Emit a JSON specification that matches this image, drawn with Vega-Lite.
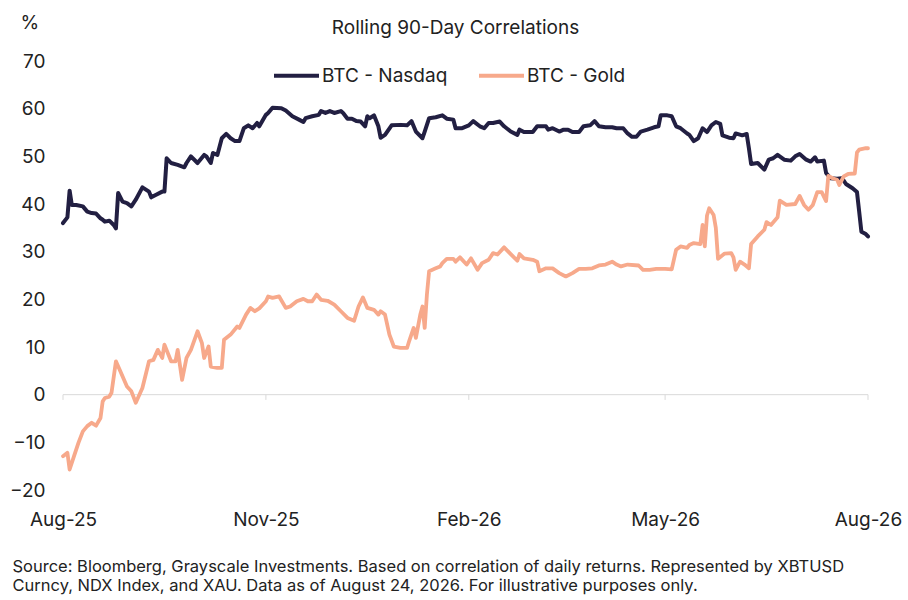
{
"$schema": "https://vega.github.io/schema/vega-lite/v6.json",
"width": 805,
"height": 429,
"autosize": {"type": "none"},
"padding": {"left": 63, "top": 61, "right": 40, "bottom": 110},
"background": "white",
"config": {"font": "Inter", "view": {"stroke": null}},
"title": {"text": "Rolling 90-Day Correlations", "fontSize": 19, "fontWeight": "normal", "color": "#222222", "anchor": "middle", "dx": -10, "offset": 0, "dy": 25},
"datasets": {
"ticks": [{"date": "2025-08-24"}, {"date": "2025-11-24"}, {"date": "2026-02-24"}, {"date": "2026-05-24"}, {"date": "2026-08-24"}],
"nasdaq": [
{"date":"2025-08-24","value":36.0},{"date":"2025-08-26","value":37.2},{"date":"2025-08-27","value":42.8},{"date":"2025-08-28","value":39.8},{"date":"2025-08-30","value":39.8},{"date":"2025-09-02","value":39.5},{"date":"2025-09-04","value":38.4},{"date":"2025-09-06","value":38.1},{"date":"2025-09-08","value":38.0},{"date":"2025-09-10","value":37.0},{"date":"2025-09-11","value":36.7},{"date":"2025-09-12","value":36.3},{"date":"2025-09-14","value":36.5},{"date":"2025-09-16","value":35.6},{"date":"2025-09-17","value":34.9},{"date":"2025-09-18","value":42.3},{"date":"2025-09-20","value":40.5},{"date":"2025-09-22","value":40.2},{"date":"2025-09-24","value":39.5},{"date":"2025-09-26","value":40.9},{"date":"2025-09-29","value":43.5},{"date":"2025-10-02","value":42.6},{"date":"2025-10-03","value":41.4},{"date":"2025-10-05","value":41.9},{"date":"2025-10-08","value":42.6},{"date":"2025-10-09","value":42.6},{"date":"2025-10-10","value":49.6},{"date":"2025-10-12","value":48.6},{"date":"2025-10-15","value":48.2},{"date":"2025-10-18","value":47.7},{"date":"2025-10-19","value":48.6},{"date":"2025-10-21","value":50.0},{"date":"2025-10-24","value":48.6},{"date":"2025-10-27","value":50.3},{"date":"2025-10-28","value":50.0},{"date":"2025-10-30","value":48.6},{"date":"2025-10-31","value":50.7},{"date":"2025-11-02","value":50.3},{"date":"2025-11-04","value":53.8},{"date":"2025-11-06","value":54.7},{"date":"2025-11-08","value":53.8},{"date":"2025-11-10","value":53.2},{"date":"2025-11-12","value":53.2},{"date":"2025-11-14","value":55.9},{"date":"2025-11-16","value":56.5},{"date":"2025-11-18","value":55.9},{"date":"2025-11-20","value":57.0},{"date":"2025-11-21","value":56.3},{"date":"2025-11-24","value":58.7},{"date":"2025-11-25","value":59.1},{"date":"2025-11-27","value":60.2},{"date":"2025-12-01","value":60.1},{"date":"2025-12-03","value":59.6},{"date":"2025-12-06","value":58.4},{"date":"2025-12-09","value":57.7},{"date":"2025-12-11","value":57.2},{"date":"2025-12-12","value":58.0},{"date":"2025-12-15","value":58.4},{"date":"2025-12-18","value":58.7},{"date":"2025-12-19","value":59.5},{"date":"2025-12-21","value":59.1},{"date":"2025-12-23","value":59.5},{"date":"2025-12-25","value":59.1},{"date":"2025-12-28","value":59.5},{"date":"2025-12-29","value":59.1},{"date":"2025-12-31","value":57.9},{"date":"2026-01-02","value":57.9},{"date":"2026-01-04","value":57.4},{"date":"2026-01-06","value":57.3},{"date":"2026-01-08","value":56.3},{"date":"2026-01-09","value":58.4},{"date":"2026-01-10","value":58.0},{"date":"2026-01-12","value":58.6},{"date":"2026-01-14","value":56.3},{"date":"2026-01-15","value":53.9},{"date":"2026-01-17","value":54.5},{"date":"2026-01-20","value":56.5},{"date":"2026-01-24","value":56.6},{"date":"2026-01-27","value":56.5},{"date":"2026-01-29","value":57.4},{"date":"2026-01-31","value":55.2},{"date":"2026-02-03","value":53.8},{"date":"2026-02-04","value":55.2},{"date":"2026-02-06","value":58.0},{"date":"2026-02-09","value":58.2},{"date":"2026-02-12","value":58.6},{"date":"2026-02-14","value":57.9},{"date":"2026-02-17","value":57.7},{"date":"2026-02-18","value":55.9},{"date":"2026-02-21","value":55.9},{"date":"2026-02-24","value":56.5},{"date":"2026-02-26","value":57.4},{"date":"2026-03-01","value":56.3},{"date":"2026-03-03","value":55.9},{"date":"2026-03-05","value":57.0},{"date":"2026-03-07","value":57.0},{"date":"2026-03-10","value":57.3},{"date":"2026-03-12","value":56.3},{"date":"2026-03-15","value":55.2},{"date":"2026-03-18","value":54.5},{"date":"2026-03-19","value":55.6},{"date":"2026-03-21","value":55.1},{"date":"2026-03-25","value":55.1},{"date":"2026-03-27","value":56.3},{"date":"2026-03-31","value":56.3},{"date":"2026-04-01","value":55.6},{"date":"2026-04-03","value":55.9},{"date":"2026-04-06","value":55.2},{"date":"2026-04-08","value":55.6},{"date":"2026-04-10","value":55.6},{"date":"2026-04-12","value":55.1},{"date":"2026-04-15","value":55.1},{"date":"2026-04-17","value":56.3},{"date":"2026-04-20","value":56.5},{"date":"2026-04-22","value":57.4},{"date":"2026-04-24","value":56.3},{"date":"2026-04-27","value":56.1},{"date":"2026-04-30","value":56.1},{"date":"2026-05-02","value":55.9},{"date":"2026-05-05","value":55.9},{"date":"2026-05-07","value":54.8},{"date":"2026-05-09","value":54.1},{"date":"2026-05-11","value":54.1},{"date":"2026-05-13","value":55.2},{"date":"2026-05-16","value":55.6},{"date":"2026-05-19","value":56.1},{"date":"2026-05-21","value":56.3},{"date":"2026-05-22","value":58.6},{"date":"2026-05-25","value":58.6},{"date":"2026-05-27","value":58.4},{"date":"2026-05-29","value":56.3},{"date":"2026-05-31","value":55.9},{"date":"2026-06-03","value":54.8},{"date":"2026-06-04","value":54.5},{"date":"2026-06-06","value":53.2},{"date":"2026-06-08","value":53.8},{"date":"2026-06-10","value":55.9},{"date":"2026-06-12","value":55.1},{"date":"2026-06-14","value":56.5},{"date":"2026-06-16","value":57.2},{"date":"2026-06-18","value":56.8},{"date":"2026-06-19","value":54.4},{"date":"2026-06-22","value":53.9},{"date":"2026-06-24","value":53.8},{"date":"2026-06-25","value":54.8},{"date":"2026-06-28","value":54.4},{"date":"2026-06-30","value":54.7},{"date":"2026-07-01","value":51.7},{"date":"2026-07-02","value":48.4},{"date":"2026-07-05","value":48.6},{"date":"2026-07-08","value":47.2},{"date":"2026-07-10","value":49.3},{"date":"2026-07-12","value":49.6},{"date":"2026-07-14","value":50.3},{"date":"2026-07-17","value":49.3},{"date":"2026-07-20","value":49.1},{"date":"2026-07-22","value":50.0},{"date":"2026-07-24","value":50.5},{"date":"2026-07-27","value":49.3},{"date":"2026-07-29","value":48.9},{"date":"2026-07-31","value":49.8},{"date":"2026-08-01","value":48.9},{"date":"2026-08-04","value":49.1},{"date":"2026-08-05","value":46.5},{"date":"2026-08-07","value":45.4},{"date":"2026-08-10","value":45.3},{"date":"2026-08-12","value":45.4},{"date":"2026-08-13","value":44.9},{"date":"2026-08-14","value":44.2},{"date":"2026-08-17","value":43.3},{"date":"2026-08-19","value":42.5},{"date":"2026-08-20","value":38.4},{"date":"2026-08-21","value":34.2},{"date":"2026-08-23","value":33.7},{"date":"2026-08-24","value":33.2}
],
"gold": [
{"date":"2025-08-24","value":-12.9},{"date":"2025-08-26","value":-12.2},{"date":"2025-08-27","value":-15.7},{"date":"2025-08-29","value":-12.9},{"date":"2025-08-31","value":-10.1},{"date":"2025-09-02","value":-7.7},{"date":"2025-09-04","value":-6.6},{"date":"2025-09-06","value":-5.9},{"date":"2025-09-08","value":-6.5},{"date":"2025-09-10","value":-4.9},{"date":"2025-09-11","value":-1.4},{"date":"2025-09-12","value":-0.7},{"date":"2025-09-14","value":-0.4},{"date":"2025-09-15","value":0.4},{"date":"2025-09-17","value":7.0},{"date":"2025-09-19","value":4.9},{"date":"2025-09-22","value":1.7},{"date":"2025-09-24","value":0.7},{"date":"2025-09-26","value":-1.7},{"date":"2025-09-29","value":1.4},{"date":"2025-10-02","value":7.0},{"date":"2025-10-04","value":7.3},{"date":"2025-10-06","value":9.4},{"date":"2025-10-08","value":7.7},{"date":"2025-10-09","value":10.5},{"date":"2025-10-12","value":7.0},{"date":"2025-10-14","value":7.0},{"date":"2025-10-15","value":9.4},{"date":"2025-10-17","value":3.1},{"date":"2025-10-19","value":7.7},{"date":"2025-10-21","value":9.4},{"date":"2025-10-24","value":13.3},{"date":"2025-10-26","value":10.8},{"date":"2025-10-27","value":7.7},{"date":"2025-10-29","value":10.1},{"date":"2025-10-30","value":5.9},{"date":"2025-11-02","value":5.6},{"date":"2025-11-04","value":5.6},{"date":"2025-11-05","value":11.5},{"date":"2025-11-08","value":12.6},{"date":"2025-11-11","value":14.3},{"date":"2025-11-12","value":14.0},{"date":"2025-11-15","value":16.8},{"date":"2025-11-17","value":18.2},{"date":"2025-11-19","value":17.5},{"date":"2025-11-21","value":18.1},{"date":"2025-11-24","value":19.6},{"date":"2025-11-25","value":20.6},{"date":"2025-11-27","value":20.3},{"date":"2025-11-30","value":20.6},{"date":"2025-12-03","value":18.2},{"date":"2025-12-05","value":18.5},{"date":"2025-12-08","value":19.6},{"date":"2025-12-11","value":20.1},{"date":"2025-12-13","value":19.6},{"date":"2025-12-15","value":19.6},{"date":"2025-12-17","value":21.0},{"date":"2025-12-19","value":19.9},{"date":"2025-12-22","value":19.7},{"date":"2025-12-25","value":18.9},{"date":"2025-12-28","value":17.5},{"date":"2025-12-31","value":16.1},{"date":"2026-01-03","value":15.5},{"date":"2026-01-05","value":18.5},{"date":"2026-01-07","value":20.4},{"date":"2026-01-09","value":18.2},{"date":"2026-01-12","value":17.8},{"date":"2026-01-14","value":16.8},{"date":"2026-01-15","value":17.5},{"date":"2026-01-17","value":16.8},{"date":"2026-01-19","value":12.6},{"date":"2026-01-21","value":10.1},{"date":"2026-01-24","value":9.8},{"date":"2026-01-27","value":9.8},{"date":"2026-01-28","value":11.3},{"date":"2026-01-30","value":14.0},{"date":"2026-01-31","value":11.9},{"date":"2026-02-02","value":16.8},{"date":"2026-02-03","value":18.5},{"date":"2026-02-04","value":14.0},{"date":"2026-02-05","value":21.0},{"date":"2026-02-06","value":25.9},{"date":"2026-02-09","value":26.5},{"date":"2026-02-11","value":26.9},{"date":"2026-02-12","value":27.6},{"date":"2026-02-14","value":28.5},{"date":"2026-02-17","value":28.5},{"date":"2026-02-18","value":27.9},{"date":"2026-02-20","value":28.8},{"date":"2026-02-23","value":27.3},{"date":"2026-02-25","value":28.6},{"date":"2026-02-28","value":26.2},{"date":"2026-03-02","value":27.6},{"date":"2026-03-05","value":28.3},{"date":"2026-03-07","value":29.7},{"date":"2026-03-09","value":29.4},{"date":"2026-03-12","value":30.9},{"date":"2026-03-15","value":29.5},{"date":"2026-03-18","value":28.1},{"date":"2026-03-19","value":29.5},{"date":"2026-03-21","value":28.6},{"date":"2026-03-25","value":28.3},{"date":"2026-03-27","value":27.9},{"date":"2026-03-28","value":25.9},{"date":"2026-03-31","value":26.5},{"date":"2026-04-03","value":26.5},{"date":"2026-04-06","value":25.5},{"date":"2026-04-09","value":24.8},{"date":"2026-04-12","value":25.5},{"date":"2026-04-15","value":26.4},{"date":"2026-04-18","value":26.4},{"date":"2026-04-21","value":26.5},{"date":"2026-04-24","value":27.1},{"date":"2026-04-27","value":27.3},{"date":"2026-04-30","value":27.9},{"date":"2026-05-02","value":27.3},{"date":"2026-05-04","value":26.9},{"date":"2026-05-07","value":27.3},{"date":"2026-05-12","value":27.1},{"date":"2026-05-14","value":26.2},{"date":"2026-05-17","value":26.2},{"date":"2026-05-20","value":26.4},{"date":"2026-05-24","value":26.4},{"date":"2026-05-27","value":26.3},{"date":"2026-05-29","value":30.4},{"date":"2026-05-31","value":31.1},{"date":"2026-06-03","value":30.8},{"date":"2026-06-04","value":31.4},{"date":"2026-06-06","value":31.8},{"date":"2026-06-09","value":31.6},{"date":"2026-06-10","value":35.6},{"date":"2026-06-11","value":31.1},{"date":"2026-06-12","value":37.6},{"date":"2026-06-13","value":39.1},{"date":"2026-06-15","value":37.7},{"date":"2026-06-16","value":35.0},{"date":"2026-06-17","value":28.5},{"date":"2026-06-20","value":29.6},{"date":"2026-06-23","value":29.7},{"date":"2026-06-24","value":28.8},{"date":"2026-06-25","value":26.2},{"date":"2026-06-27","value":27.9},{"date":"2026-06-29","value":27.3},{"date":"2026-07-01","value":26.5},{"date":"2026-07-02","value":31.6},{"date":"2026-07-05","value":33.2},{"date":"2026-07-08","value":34.6},{"date":"2026-07-09","value":36.2},{"date":"2026-07-11","value":35.6},{"date":"2026-07-14","value":37.2},{"date":"2026-07-15","value":40.7},{"date":"2026-07-18","value":39.8},{"date":"2026-07-22","value":40.0},{"date":"2026-07-24","value":41.7},{"date":"2026-07-26","value":39.8},{"date":"2026-07-28","value":38.8},{"date":"2026-07-30","value":39.8},{"date":"2026-08-01","value":42.5},{"date":"2026-08-03","value":42.5},{"date":"2026-08-05","value":40.6},{"date":"2026-08-06","value":45.9},{"date":"2026-08-08","value":45.4},{"date":"2026-08-10","value":45.1},{"date":"2026-08-11","value":44.0},{"date":"2026-08-13","value":45.8},{"date":"2026-08-15","value":46.3},{"date":"2026-08-18","value":46.4},{"date":"2026-08-19","value":50.8},{"date":"2026-08-20","value":51.4},{"date":"2026-08-23","value":51.7},{"date":"2026-08-24","value":51.7}
]
},
"layer": [
{
"data": {"values": [{"z": 0}]},
"mark": {"type": "rule", "color": "#d9d9d9", "strokeWidth": 1},
"encoding": {"y": {"datum": 0}}
},
{
"data": {"name": "ticks"},
"mark": {"type": "rule", "color": "#d9d9d9", "strokeWidth": 1},
"encoding": {
"x": {"field": "date", "type": "temporal", "scale": {"type": "utc", "domain": ["2025-08-24", "2026-08-24"]},
"axis": {"values": ["2025-08-24", "2025-11-24", "2026-02-24", "2026-05-24", "2026-08-24"], "labelExpr": "utcFormat(datum.value, '%b-%y')", "domain": false, "ticks": false, "grid": false, "labelFlush": false, "labelOverlap": false, "labelBound": false, "labelPadding": 20, "labelFontSize": 19, "labelColor": "#222222",
"title": ["Source: Bloomberg, Grayscale Investments. Based on correlation of daily returns. Represented by XBTUSD", "Curncy, NDX Index, and XAU. Data as of August 24, 2026. For illustrative purposes only."],
"titleFontSize": 16.5, "titleFontWeight": "normal", "titleColor": "#222222", "titleAlign": "left", "titleAnchor": "start", "titleX": -51, "titleY": 81, "titleBaseline": "alphabetic", "titleLineHeight": 19}},
"y": {"datum": 0},
"y2": {"datum": -1.1}
}
},
{
"data": {"name": "nasdaq"},
"transform": [{"calculate": "'BTC - Nasdaq'", "as": "series"}],
"mark": {"type": "line", "strokeWidth": 4, "strokeJoin": "round", "strokeCap": "round"},
"encoding": {
"x": {"field": "date", "type": "temporal", "scale": {"type": "utc", "domain": ["2025-08-24", "2026-08-24"]},
"axis": {"values": ["2025-08-24", "2025-11-24", "2026-02-24", "2026-05-24", "2026-08-24"], "labelExpr": "utcFormat(datum.value, '%b-%y')", "domain": false, "ticks": false, "grid": false, "labelFlush": false, "labelOverlap": false, "labelBound": false, "labelPadding": 20, "labelFontSize": 19, "labelColor": "#222222",
"title": ["Source: Bloomberg, Grayscale Investments. Based on correlation of daily returns. Represented by XBTUSD", "Curncy, NDX Index, and XAU. Data as of August 24, 2026. For illustrative purposes only."],
"titleFontSize": 16.5, "titleFontWeight": "normal", "titleColor": "#222222", "titleAlign": "left", "titleAnchor": "start", "titleX": -51, "titleY": 81, "titleBaseline": "alphabetic", "titleLineHeight": 19}},
"y": {"field": "value", "type": "quantitative", "scale": {"domain": [-20, 70], "nice": false, "zero": false},
"axis": {"values": [-20, -10, 0, 10, 20, 30, 40, 50, 60, 70], "domain": false, "ticks": false, "grid": false, "labelPadding": 18, "labelFontSize": 19, "labelColor": "#222222",
"title": "%", "titleAngle": 0, "titleX": -43, "titleY": -39, "titleAlign": "left", "titleBaseline": "middle", "titleFontSize": 19, "titleFontWeight": "normal", "titleColor": "#222222"}},
"color": {"field": "series", "type": "nominal", "scale": {"domain": ["BTC - Nasdaq", "BTC - Gold"], "range": ["#221f42", "#f7a98b"]},
"legend": {"orient": "none", "legendX": 209, "legendY": -10, "direction": "horizontal", "title": null, "symbolType": "stroke", "symbolStrokeWidth": 4, "symbolSize": 2025, "labelFontSize": 19, "labelColor": "#222222", "columnPadding": 23, "labelOffset": 1}}
}
},
{
"data": {"name": "gold"},
"transform": [{"calculate": "'BTC - Gold'", "as": "series"}],
"mark": {"type": "line", "strokeWidth": 3.8, "strokeJoin": "round", "strokeCap": "round"},
"encoding": {
"x": {"field": "date", "type": "temporal"},
"y": {"field": "value", "type": "quantitative"},
"color": {"field": "series", "type": "nominal"}
}
}
]
}
